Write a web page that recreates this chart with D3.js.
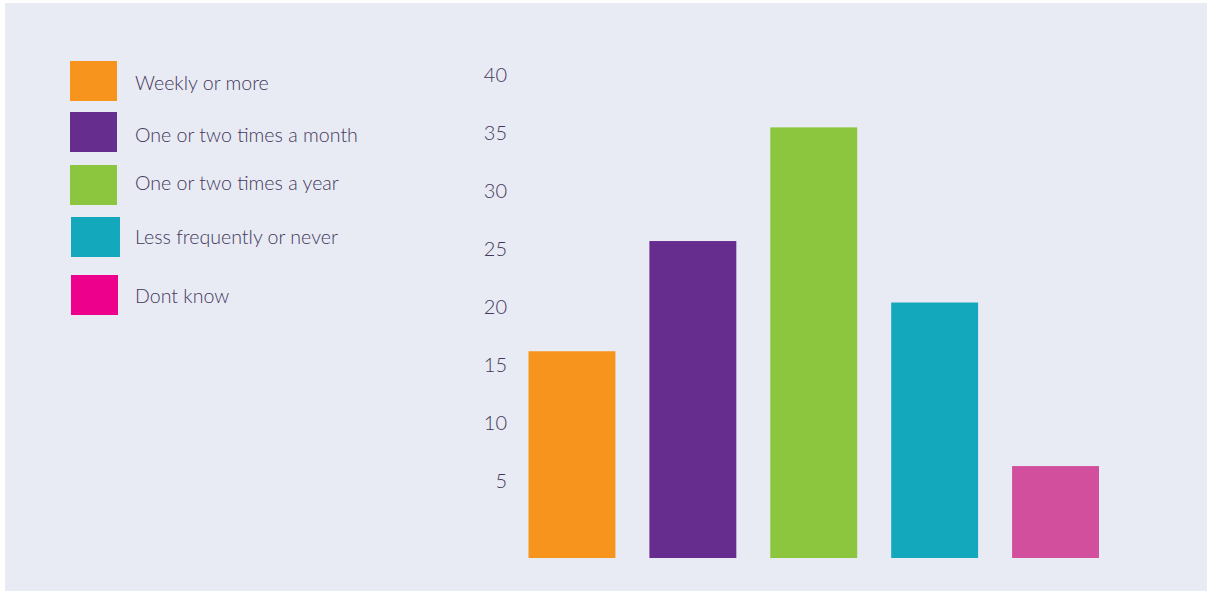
<!DOCTYPE html>
<html>
<head>
<meta charset="utf-8">
<script src="https://cdn.jsdelivr.net/npm/d3@7"></script>
<style>
  html, body { margin: 0; padding: 0; background: #ffffff; }
  svg { display: block; }
  text { font-family: Lato, "Open Sans", sans-serif; font-weight: 300; fill: #45385c; }
</style>
</head>
<body>
<svg id="chart" width="1210" height="591"></svg>
<script>
// Survey categories, their share (%) and colours
const categories = [
  "Weekly or more",
  "One or two times a month",
  "One or two times a year",
  "Less frequently or never",
  "Dont know"
];
const values = [16.1, 25.6, 35.4, 20.3, 6.2];
const barColors = ["#f7941e", "#662d8f", "#8cc63f", "#14a8bc", "#d14f9c"];
const legendColors = ["#f7941e", "#662d8f", "#8cc63f", "#14a8bc", "#ec008c"];
const tickValues = [5, 10, 15, 20, 25, 30, 35, 40];

const svg = d3.select("#chart");

// Panel background
svg.append("rect")
  .attr("x", 5).attr("y", 3)
  .attr("width", 1202).attr("height", 588)
  .attr("fill", "#e8ebf4");

// Scales
const baseline = 558;
const x = d3.scaleBand()
  .domain(categories)
  .range([528.5, 1099])
  .paddingInner(0.281)
  .paddingOuter(0);

const y = d3.scaleLinear()
  .domain([0, 40])
  .range([538, 74]);

// Value axis: labels only, no line or ticks
const axis = d3.axisLeft(y)
  .tickValues(tickValues)
  .tickSize(0)
  .tickPadding(0)
  .tickFormat(d3.format("d"));

const gAxis = svg.append("g")
  .attr("transform", "translate(507,0)")
  .call(axis);
gAxis.select(".domain").remove();
gAxis.selectAll("text")
  .attr("font-size", 20)
  .attr("font-family", null)
  .attr("dy", "0.35em")
  .style("fill", "#45385c");

// Bars run from their value down to the panel baseline
svg.append("g")
  .selectAll("rect")
  .data(categories)
  .join("rect")
  .attr("x", d => x(d))
  .attr("width", x.bandwidth())
  .attr("y", (d, i) => y(values[i]))
  .attr("height", (d, i) => baseline - y(values[i]))
  .attr("fill", (d, i) => barColors[i]);

// Legend
const legendRows = [81, 132, 185, 237, 295];
const legend = svg.append("g");
const item = legend.selectAll("g")
  .data(categories)
  .join("g")
  .attr("transform", (d, i) => `translate(0,${legendRows[i]})`);

item.append("rect")
  .attr("x", (d, i) => i >= 3 ? 71 : 70)
  .attr("y", -20)
  .attr("width", (d, i) => i === 3 ? 49 : 47)
  .attr("height", 40)
  .attr("fill", (d, i) => legendColors[i]);

item.append("text")
  .attr("x", 135)
  .attr("y", (d, i) => [2, 3, -2, 0, 1][i])
  .attr("dy", "0.35em")
  .attr("font-size", 19.6)
  .text(d => d);
</script>
</body>
</html>
